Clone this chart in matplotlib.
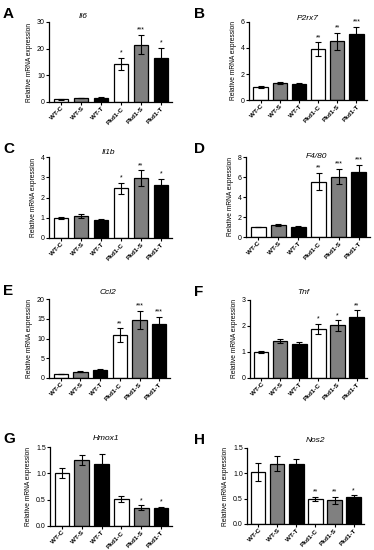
import numpy as np
import matplotlib
matplotlib.use("Agg")
import matplotlib.pyplot as plt

plt.rcParams.update({
    "font.family": ["Liberation Sans", "DejaVu Sans"],
    "font.size": 5,
    "axes.linewidth": 0.9,
    "xtick.major.width": 0.8,
    "ytick.major.width": 0.8,
    "xtick.major.size": 2,
    "ytick.major.size": 2,
})

groups = ["WT-C", "WT-S", "WT-T", "Pkd1-C", "Pkd1-S", "Pkd1-T"]
bar_colors = ["white", "#808080", "black", "white", "#808080", "black"]

il6 = [1.0, 1.5, 1.6, 14.3, 21.5, 16.4]
il6_err = [0.1, 0.1, 0.2, 2.2, 3.6, 3.9]
il6_sig = ["", "", "", "*", "***", "*"]

p2rx7 = [1.0, 1.28, 1.22, 3.9, 4.52, 5.1]
p2rx7_err = [0.05, 0.07, 0.07, 0.55, 0.65, 0.55]
p2rx7_sig = ["", "", "", "**", "**", "***"]

il1b = [1.0, 1.1, 0.88, 2.45, 2.97, 2.62]
il1b_err = [0.05, 0.1, 0.05, 0.27, 0.38, 0.3]
il1b_sig = ["", "", "", "*", "**", "*"]

f480 = [1.0, 1.2, 1.0, 5.55, 6.05, 6.55]
f480_err = [0.03, 0.1, 0.07, 0.85, 0.75, 0.65]
f480_sig = ["", "", "", "**", "***", "***"]

ccl2 = [1.0, 1.6, 1.9, 10.8, 14.7, 13.7]
ccl2_err = [0.1, 0.15, 0.3, 1.8, 2.3, 1.8]
ccl2_sig = ["", "", "", "**", "***", "***"]

tnf = [1.0, 1.43, 1.3, 1.88, 2.02, 2.35]
tnf_err = [0.02, 0.08, 0.1, 0.2, 0.2, 0.25]
tnf_sig = ["", "", "", "*", "*", "**"]

hmox1 = [1.01, 1.25, 1.17, 0.51, 0.35, 0.34]
hmox1_err = [0.1, 0.1, 0.19, 0.06, 0.04, 0.03]
hmox1_sig = ["", "", "", "", "*", "*"]

nos2 = [1.03, 1.19, 1.18, 0.50, 0.47, 0.53]
nos2_err = [0.18, 0.15, 0.1, 0.04, 0.07, 0.04]
nos2_sig = ["", "", "", "**", "**", "*"]

# letter, title, values, errors, stars, ymax, ytick step,
# axes box in pixels (left, right, top, bottom), title center x, title y
panels = [
    ("A", "Il6", il6, il6_err, il6_sig, 30, 10, (49, 172, 22, 102), 83, 17),
    ("B", "P2rx7", p2rx7, p2rx7_err, p2rx7_sig, 6, 2, (249, 367, 22, 100), 308, 18),
    ("C", "Il1b", il1b, il1b_err, il1b_sig, 4, 1, (49, 172, 157, 238), 108, 153),
    ("D", "F4/80", f480, f480_err, f480_sig, 8, 2, (246, 370, 157, 237), 316, 157),
    ("E", "Ccl2", ccl2, ccl2_err, ccl2_sig, 20, 5, (49, 170, 299, 378), 108, 292),
    ("F", "Tnf", tnf, tnf_err, tnf_sig, 3, 1, (250, 367, 300, 378), 303, 292),
    ("G", "Hmox1", hmox1, hmox1_err, hmox1_sig, 1.5, 0.5, (50, 172, 447, 526), 106, 439),
    ("H", "Nos2", nos2, nos2_err, nos2_sig, 1.5, 0.5, (247, 364, 448, 524), 315, 440),
]

W, H = 374, 550
fig = plt.figure(figsize=(W / 100, H / 100), dpi=100)

x = np.arange(len(groups))
for letter, title, vals, errs, sig, ymax, step, box, tx, ty in panels:
    l, r, t, b = box
    ax = fig.add_axes([l / W, 1 - b / H, (r - l) / W, (b - t) / H])
    ax.bar(x, vals, width=0.74, color=bar_colors, edgecolor="black", linewidth=0.9)
    ax.errorbar(x, vals, yerr=errs, fmt="none", ecolor="black",
                elinewidth=0.8, capsize=2.5, capthick=0.8)
    for i, s in enumerate(sig):
        if s:
            ax.text(x[i], vals[i] + errs[i] + ymax * 0.015, s,
                    ha="center", va="bottom", fontsize=5)
    ax.set_xlim(-0.6, 5.55)
    ax.set_ylim(0, ymax)
    ax.set_yticks(np.arange(0, ymax + step / 2, step))
    if ymax < 2:
        ax.set_yticklabels([f"{v:.1f}" for v in np.arange(0, ymax + step / 2, step)])
    ax.set_xticks(x)
    ax.set_xticklabels(groups, rotation=45, ha="right", rotation_mode="anchor",
                       fontweight="bold", fontsize=4.6)
    ax.tick_params(axis="y", labelsize=5, pad=1)
    ax.tick_params(axis="x", pad=1)
    ax.spines["top"].set_visible(False)
    ax.spines["right"].set_visible(False)
    ax.set_ylabel("Relative mRNA expression", fontsize=4.8, labelpad=3)
    fig.text(tx / W, 1 - ty / H, title, ha="center", va="center",
             fontsize=6, style="italic")
    lx = 3 if l < 150 else 194
    fig.text(lx / W, 1 - (t - 8) / H, letter, ha="left", va="center",
             fontsize=11, fontweight="bold")

fig.savefig("out.png", dpi=100)
